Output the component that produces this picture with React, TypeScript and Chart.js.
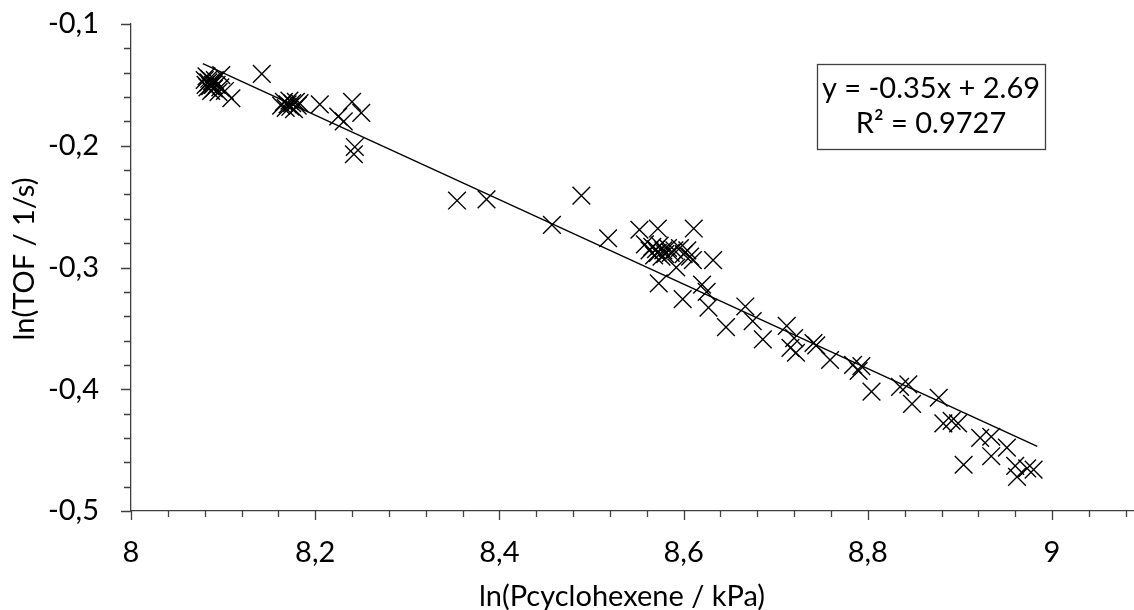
import React, { useEffect, useRef } from 'react';
import { Chart, registerables } from 'chart.js';

Chart.register(...registerables);

// ln(Pcyclohexene / kPa)
const xValues: number[] = [
  8.080, 8.081, 8.082, 8.083, 8.084, 8.085, 8.086, 8.087, 8.088, 8.089, 8.090, 8.091, 8.093, 8.095, 8.097, 8.098, 8.102, 8.109,
  8.142,
  8.163, 8.166, 8.168, 8.170, 8.172, 8.173, 8.175, 8.177, 8.179, 8.181, 8.183,
  8.205, 8.225, 8.231, 8.240, 8.250, 8.243, 8.242,
  8.354, 8.386, 8.457, 8.489, 8.518,
  8.552, 8.558, 8.572, 8.611, 8.563, 8.566, 8.568, 8.570, 8.572, 8.574, 8.576, 8.578, 8.580, 8.583, 8.586, 8.590, 8.596, 8.600, 8.604, 8.607, 8.610,
  8.592, 8.632, 8.573, 8.599, 8.620, 8.625, 8.627,
  8.646, 8.667, 8.675, 8.686, 8.712, 8.716, 8.720, 8.722, 8.741, 8.744, 8.759, 8.784, 8.793, 8.790,
  8.804, 8.835, 8.844, 8.848, 8.877, 8.882, 8.891, 8.898, 8.904, 8.922, 8.934, 8.934, 8.951, 8.960, 8.962, 8.973, 8.980,
];

// ln(TOF / 1/s)
const yValues: number[] = [
  -0.146, -0.150, -0.143, -0.152, -0.148, -0.145, -0.151, -0.155, -0.147, -0.150, -0.153, -0.146, -0.150, -0.156, -0.152, -0.142, -0.155, -0.161,
  -0.141,
  -0.167, -0.164, -0.169, -0.166, -0.163, -0.168, -0.165, -0.170, -0.164, -0.167, -0.165,
  -0.166, -0.176, -0.180, -0.164, -0.173, -0.201, -0.207,
  -0.245, -0.244, -0.265, -0.241, -0.276,
  -0.269, -0.281, -0.268, -0.268, -0.286, -0.283, -0.290, -0.285, -0.288, -0.282, -0.291, -0.286, -0.289, -0.284, -0.288, -0.286, -0.284, -0.289, -0.286, -0.291, -0.294,
  -0.300, -0.294, -0.313, -0.326, -0.314, -0.320, -0.333,
  -0.349, -0.332, -0.344, -0.359, -0.348, -0.366, -0.358, -0.370, -0.362, -0.364, -0.376, -0.380, -0.381, -0.385,
  -0.402, -0.398, -0.396, -0.412, -0.407, -0.428, -0.426, -0.428, -0.462, -0.440, -0.439, -0.455, -0.448, -0.463, -0.472, -0.465, -0.466,
];

// Linear trend line end points
const trendX: number[] = [8.078, 8.984];
const trendY: number[] = [-0.1326, -0.447];

// Axis tick labels (major ticks)
const xMajorValues: number[] = [8, 8.2, 8.4, 8.6, 8.8, 9];
const xMajorLabels: string[] = ['8', '8,2', '8,4', '8,6', '8,8', '9'];
const yMajorValues: number[] = [-0.5, -0.4, -0.3, -0.2, -0.1];
const yMajorLabels: string[] = ['-0,5', '-0,4', '-0,3', '-0,2', '-0,1'];

const equationLines: string[] = ['y = -0.35x + 2.69', 'R² = 0.9727'];
const xTitle = 'ln(Pcyclohexene / kPa)';
const yTitle = 'ln(TOF / 1/s)';

const FONT = 'Lato';
const FONT_SIZE = 29;
const AXIS_COLOR = '#404040';
const TEXT_COLOR = '#000000';

const findLabel = (v: number, vals: number[], labels: string[]) => {
  const i = vals.findIndex((m) => Math.abs(m - v) < 1e-6);
  return i >= 0 ? labels[i] : '';
};

const decorations = {
  id: 'decorations',
  afterDraw(chart: any) {
    const { ctx, chartArea: a, scales } = chart;
    const xs = scales.x;
    const ys = scales.y;
    ctx.save();
    // tick marks
    ctx.strokeStyle = AXIS_COLOR;
    ctx.lineWidth = 1.3;
    ctx.beginPath();
    xs.ticks.forEach((t: any) => {
      const px = Math.round(xs.getPixelForValue(t.value)) + 0.5;
      const major = findLabel(t.value, xMajorValues, xMajorLabels) !== '';
      ctx.moveTo(px, a.bottom);
      ctx.lineTo(px, a.bottom + (major ? 9 : 6));
    });
    ys.ticks.forEach((t: any) => {
      const py = Math.round(ys.getPixelForValue(t.value)) + 0.5;
      const major = findLabel(t.value, yMajorValues, yMajorLabels) !== '';
      ctx.moveTo(a.left, py);
      ctx.lineTo(a.left - (major ? 10 : 7), py);
    });
    ctx.stroke();

    // axis titles
    ctx.fillStyle = TEXT_COLOR;
    ctx.font = `${FONT_SIZE}px ${FONT}`;
    ctx.textAlign = 'center';
    ctx.textBaseline = 'alphabetic';
    ctx.fillText(xTitle, 622, 606);
    ctx.save();
    ctx.translate(34, 259);
    ctx.rotate(-Math.PI / 2);
    ctx.fillText(yTitle, 0, 0);
    ctx.restore();

    // equation box
    const bx = 817, by = 64, bw = 228, bh = 85;
    ctx.fillStyle = '#ffffff';
    ctx.fillRect(bx, by, bw, bh);
    ctx.strokeStyle = AXIS_COLOR;
    ctx.lineWidth = 1.3;
    ctx.strokeRect(bx + 0.5, by + 0.5, bw, bh);
    ctx.fillStyle = TEXT_COLOR;
    ctx.fillText(equationLines[0], bx + bw / 2, 98);
    ctx.fillText(equationLines[1], bx + bw / 2, 133);
    ctx.restore();
  },
};

export default function App() {
  const canvasRef = useRef<HTMLCanvasElement | null>(null);

  useEffect(() => {
    if (!canvasRef.current) return;
    const points = xValues.map((x, i) => ({ x, y: yValues[i] }));
    const trend = trendX.map((x, i) => ({ x, y: trendY[i] }));
    const chart = new Chart(canvasRef.current, {
      type: 'scatter',
      data: {
        datasets: [
          {
            label: 'data',
            data: points,
            pointStyle: 'crossRot',
            pointRadius: 12.5,
            pointHoverRadius: 12.5,
            borderColor: '#000000',
            pointBorderColor: '#000000',
            backgroundColor: 'rgba(0,0,0,0)',
            pointBorderWidth: 1.4,
            borderWidth: 1.4,
            clip: false,
          },
          {
            label: 'trend',
            data: trend,
            showLine: true,
            pointRadius: 0,
            borderColor: '#000000',
            borderWidth: 1.4,
            backgroundColor: 'rgba(0,0,0,0)',
          },
        ],
      },
      options: {
        animation: false,
        responsive: false,
        events: [],
        layout: { autoPadding: false, padding: { top: 24, left: 0, right: 0, bottom: 0 } },
        plugins: {
          legend: { display: false },
          tooltip: { enabled: false },
        },
        scales: {
          x: {
            type: 'linear',
            min: 8,
            max: 9.089,
            afterFit: (s: any) => {
              s.height = 99;
              s.paddingLeft = 0;
              s.paddingRight = 0;
            },
            grid: { display: false, drawTicks: false },
            border: { display: true, color: AXIS_COLOR, width: 1.3 },
            ticks: {
              stepSize: 0.04,
              includeBounds: false,
              autoSkip: false,
              maxRotation: 0,
              padding: 24,
              color: TEXT_COLOR,
              font: { family: FONT, size: FONT_SIZE },
              callback: (v: any) => findLabel(Number(v), xMajorValues, xMajorLabels),
            },
          },
          y: {
            type: 'linear',
            min: -0.5,
            max: -0.1,
            afterFit: (s: any) => {
              s.width = 131;
              s.paddingTop = 0;
              s.paddingBottom = 0;
            },
            grid: { display: false, drawTicks: false },
            border: { display: true, color: AXIS_COLOR, width: 1.3 },
            ticks: {
              stepSize: 0.02,
              autoSkip: false,
              padding: 32,
              color: TEXT_COLOR,
              font: { family: FONT, size: FONT_SIZE },
              callback: (v: any) => findLabel(Number(v), yMajorValues, yMajorLabels),
            },
          },
        },
      },
      plugins: [decorations],
    });
    return () => chart.destroy();
  }, []);

  return (
    <div style={{ position: 'absolute', left: 0, top: 0, width: 1134, height: 610, background: '#ffffff', overflow: 'hidden' }}>
      <canvas ref={canvasRef} width={1134} height={610} style={{ display: 'block' }} />
    </div>
  );
}
